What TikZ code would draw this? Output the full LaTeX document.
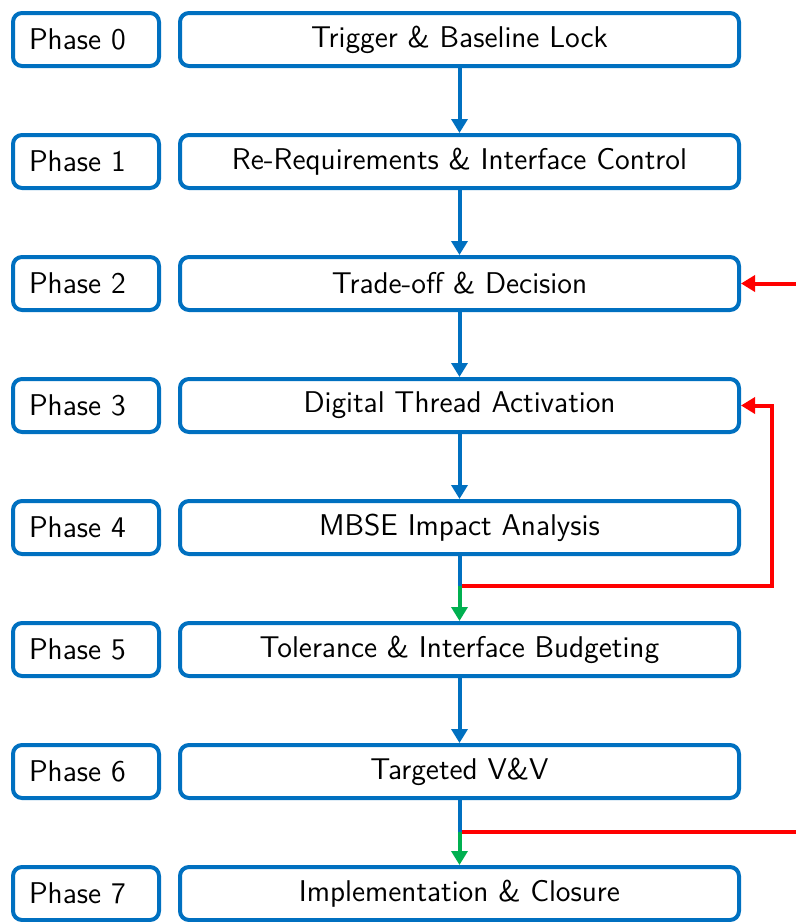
\documentclass[tikz,border=0pt]{standalone}
\usepackage{fontspec}
\usepackage{tikz}
\usetikzlibrary{arrows.meta}
\definecolor{flowblue}{RGB}{0,112,192}
\definecolor{flowred}{RGB}{255,0,0}
\definecolor{flowgreen}{RGB}{0,176,80}
\tikzset{
  boxbase/.style={draw=flowblue, line width=2pt, rounded corners=4.5pt, minimum height=26.5pt, font=\sffamily\fontsize{15}{17}\selectfont},
  phasebox/.style={boxbase, text width=57pt, inner xsep=8pt, align=left},
  stagebox/.style={boxbase, minimum width=279.5pt},
  flowline/.style={line width=2pt, draw=flowblue},
  flowarrow/.style={flowline, -{Triangle[length=7pt,width=8pt]}},
  okarrow/.style={line width=2pt, draw=flowgreen, -{Triangle[length=7pt,width=8pt]}},
  loopline/.style={line width=2pt, draw=flowred},
  looparrow/.style={loopline, -{Triangle[length=7pt,width=8pt]}}
}
\newcommand{\phaserow}[3]{\node[phasebox] (p#1) at (86,#2) {Phase #1}; \node[stagebox] (s#1) at (459.5,#2) {#3};}
\begin{document}
\begin{tikzpicture}[x=0.5pt,y=-0.5pt]
        \useasboundingbox (0,0) rectangle (796,922);
        % rows
        \phaserow{0}{39.5}{Trigger \& Baseline Lock}
        \phaserow{1}{161.5}{Re-Requirements \& Interface Control}
        \phaserow{2}{283.5}{Trade-off \& Decision}
        \phaserow{3}{405.5}{Digital Thread Activation}
        \phaserow{4}{527.5}{MBSE Impact Analysis}
        \phaserow{5}{649.5}{Tolerance \& Interface Budgeting}
        \phaserow{6}{771.5}{Targeted V\&V}
        \phaserow{7}{893.5}{Implementation \& Closure}
        % junctions and free ends
        \coordinate (j4) at (459.5,585.5);
        \coordinate (j6) at (459.5,832);
        \coordinate (r3) at (772,405.5);
        \coordinate (e2) at (796,283.5);
        \coordinate (e6) at (796,832);
        % feedback loops
        \draw[looparrow] (e2) -- (s2.east);
        \draw[looparrow] (j4) -| (r3) -- (s3.east);
        \draw[loopline] (j6) -- (e6);
        % main flow
        \draw[flowarrow] (s0.south) -- (s1.north);
        \draw[flowarrow] (s1.south) -- (s2.north);
        \draw[flowarrow] (s2.south) -- (s3.north);
        \draw[flowarrow] (s3.south) -- (s4.north);
        \draw[flowline] (s4.south) -- (j4);
        \draw[okarrow] (j4) -- (s5.north);
        \draw[flowarrow] (s5.south) -- (s6.north);
        \draw[flowline] (s6.south) -- (j6);
        \draw[okarrow] (j6) -- (s7.north);
\end{tikzpicture}
\end{document}
